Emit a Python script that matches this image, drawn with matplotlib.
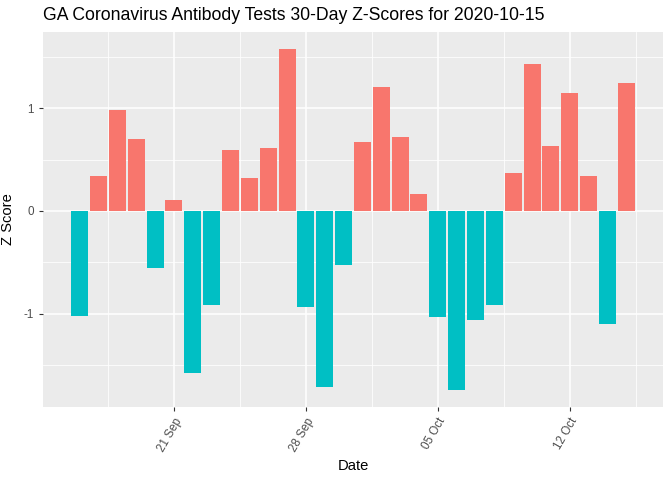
import numpy as np
import pandas as pd
import matplotlib
matplotlib.use('Agg')
import matplotlib.pyplot as plt
import matplotlib.dates as mdates

# z-scores, one per day from 2020-09-16 to 2020-10-15
dates = pd.date_range('2020-09-16', '2020-10-15', freq='D')
z_scores = [-1.02, 0.34, 0.98, 0.70, -0.555, 0.107, -1.58, -0.915, 0.59, 0.32,
            0.61, 1.58, -0.935, -1.71, -0.525, 0.67, 1.21, 0.72, 0.165, -1.03,
            -1.74, -1.06, -0.915, 0.37, 1.43, 0.63, 1.15, 0.34, -1.10, 1.25]
tick_dates = pd.to_datetime(['2020-09-21', '2020-09-28', '2020-10-05', '2020-10-12'])
minor_dates = pd.to_datetime(['2020-09-17 12:00', '2020-09-24 12:00',
                              '2020-10-01 12:00', '2020-10-08 12:00', '2020-10-15 12:00'])

plt.rcParams['font.family'] = ['Liberation Sans', 'DejaVu Sans']

fig = plt.figure(figsize=(6.72, 4.8), dpi=100)
ax = fig.add_axes([43 / 672, (480 - 406.7) / 480, (663 - 43) / 672, (406.7 - 31.7) / 480])
ax.set_facecolor('#EBEBEB')

x = mdates.date2num(dates)
z = np.array(z_scores)
colors = np.where(z > 0, '#F8766D', '#00BFC4')
ax.bar(x, z, width=0.9, color=colors, zorder=3)

xmin, xmax = x[0] - 0.45, x[-1] + 0.45
pad = (xmax - xmin) * 0.05
ax.set_xlim(xmin - pad, xmax + pad)
ymin, ymax = z.min(), z.max()
ypad = (ymax - ymin) * 0.05
ax.set_ylim(ymin - ypad, ymax + ypad)

ax.set_xticks(mdates.date2num(tick_dates))
ax.set_xticklabels([d.strftime('%d %b') for d in tick_dates], rotation=60,
                   ha='right', va='top', rotation_mode='anchor')
ax.set_xticks(mdates.date2num(minor_dates), minor=True)
ax.set_yticks([-1, 0, 1])
ax.set_yticklabels(['-1', '0', '1'])
ax.set_yticks([-1.5, -0.5, 0.5, 1.5], minor=True)

ax.grid(which='major', color='white', linewidth=1.1, zorder=0)
ax.grid(which='minor', color='white', linewidth=0.55, zorder=0)
ax.set_axisbelow(True)
for s in ax.spines.values():
    s.set_visible(False)
ax.tick_params(which='major', length=3, color='#333333', labelcolor='#4D4D4D',
               labelsize=8.4, width=0.8)
ax.tick_params(which='minor', length=0)

ax.set_xlabel('Date', fontsize=10.6, labelpad=4)
ax.set_ylabel('Z Score', fontsize=10.6, labelpad=6)
fig.text(43 / 672, 1 - 16 / 480, 'GA Coronavirus Antibody Tests 30-Day Z-Scores for 2020-10-15',
         fontsize=12.7, ha='left', va='center')

fig.savefig('out.png', dpi=100)
